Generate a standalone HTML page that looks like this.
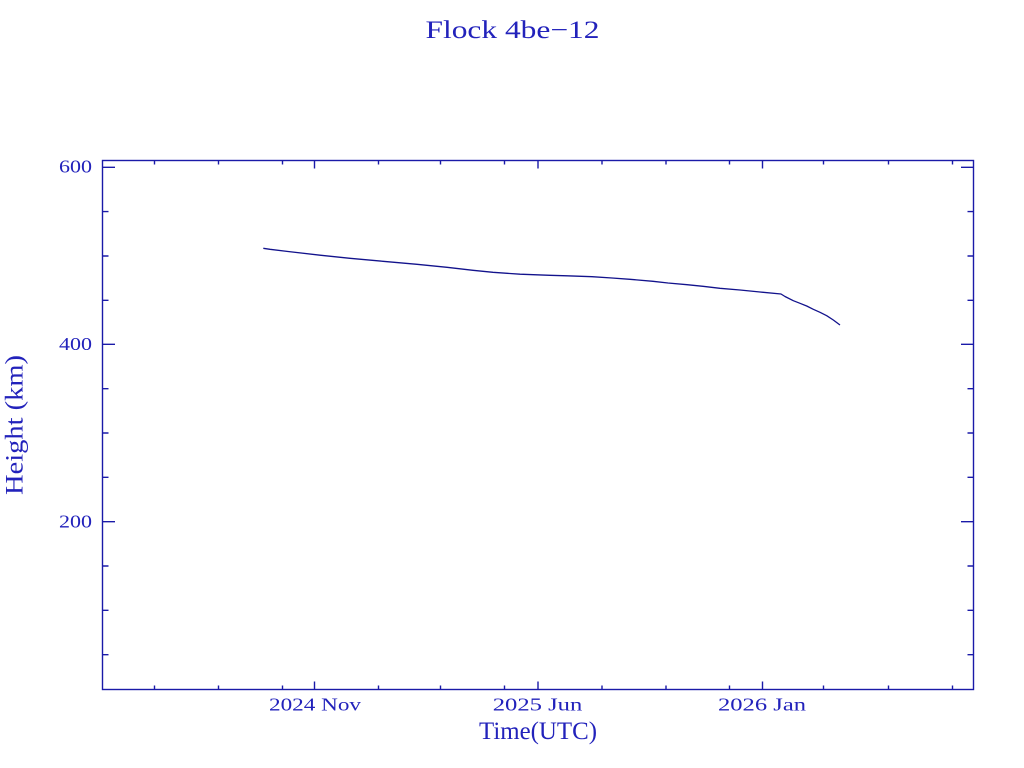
<!DOCTYPE html>
<html>
<head>
<meta charset="utf-8">
<style>
html,body{margin:0;padding:0;background:#ffffff;}
svg{display:block;}
text{font-family:"Liberation Serif","DejaVu Serif",serif;fill:#2222bb;}
</style>
</head>
<body>
<svg width="1024" height="768" viewBox="0 0 1024 768" xmlns="http://www.w3.org/2000/svg">
<rect width="1024" height="768" fill="#ffffff"/>
<!-- Title -->
<text x="512.5" y="38" font-size="25" text-anchor="middle" textLength="174" lengthAdjust="spacingAndGlyphs">Flock 4be−12</text>

<!-- Frame -->
<g stroke="#1a1aa8" stroke-width="1.4" fill="none">
<rect x="102.5" y="160.5" width="871" height="529"/>
<path d="M102.5,167.3h12.5M102.5,344.3h12.5M102.5,521.7h12.5"/>
<path d="M102.5,211.6h6M102.5,256h6M102.5,300.3h6M102.5,388.7h6M102.5,433h6M102.5,477.3h6M102.5,566h6M102.5,610.3h6M102.5,654.7h6"/>
<path d="M973.5,167.3h-12.5M973.5,344.3h-12.5M973.5,521.7h-12.5"/>
<path d="M973.5,211.6h-6M973.5,256h-6M973.5,300.3h-6M973.5,388.7h-6M973.5,433h-6M973.5,477.3h-6M973.5,566h-6M973.5,610.3h-6M973.5,654.7h-6"/>
<path d="M314.5,689.5v-8M538,689.5v-8M762.5,689.5v-8"/>
<path d="M154.5,689.5v-4M218.5,689.5v-4M282.5,689.5v-4M378.5,689.5v-4M440.5,689.5v-4M504.5,689.5v-4M602,689.5v-4M666,689.5v-4M729.5,689.5v-4M823.5,689.5v-4M888.5,689.5v-4M952.5,689.5v-4"/>
<path d="M314.5,160.5v8M538,160.5v8M762.5,160.5v8"/>
<path d="M154.5,160.5v4M218.5,160.5v4M282.5,160.5v4M378.5,160.5v4M440.5,160.5v4M504.5,160.5v4M602,160.5v4M666,160.5v4M729.5,160.5v4M823.5,160.5v4M888.5,160.5v4M952.5,160.5v4"/>
</g>

<!-- Y tick labels -->
<text x="92" y="172.7" font-size="18" text-anchor="end" textLength="33" lengthAdjust="spacingAndGlyphs">600</text>
<text x="92" y="350" font-size="18" text-anchor="end" textLength="33" lengthAdjust="spacingAndGlyphs">400</text>
<text x="92" y="527.5" font-size="18" text-anchor="end" textLength="33" lengthAdjust="spacingAndGlyphs">200</text>

<!-- X tick labels -->
<text x="315" y="710.5" font-size="18" text-anchor="middle" textLength="92" lengthAdjust="spacingAndGlyphs">2024 Nov</text>
<text x="537.5" y="710.5" font-size="18" text-anchor="middle" textLength="89.5" lengthAdjust="spacingAndGlyphs">2025 Jun</text>
<text x="762" y="710.5" font-size="18" text-anchor="middle" textLength="88" lengthAdjust="spacingAndGlyphs">2026 Jan</text>

<!-- Axis labels -->
<text x="538" y="739" font-size="25" text-anchor="middle" textLength="118" lengthAdjust="spacingAndGlyphs">Time(UTC)</text>
<text transform="translate(22.5,425) rotate(-90)" x="0" y="0" font-size="25" text-anchor="middle" textLength="140" lengthAdjust="spacingAndGlyphs">Height (km)</text>

<!-- Series -->
<path d="M263.3,248.3 L270,249.3 L288,251.5 L320,255.2 L350,258.3 L383,261.3 L417,264.3 L447,267.3 L473,270.3 L493,272.3 L520,274.2 L550,275.3 L567,275.8 L592,276.7 L612,278 L630,279.3 L653,281.3 L668,283 L687,284.7 L703,286.3 L720,288.3 L740,290 L760,292 L781,294 L785,296.5 L793.3,300.7 L800,303.3 L806.7,306 L813.3,309.3 L820,312.3 L826.7,315.7 L833.3,320 L840,325" fill="none" stroke="#12128c" stroke-width="1.3" stroke-linejoin="round"/>
</svg>
</body>
</html>
